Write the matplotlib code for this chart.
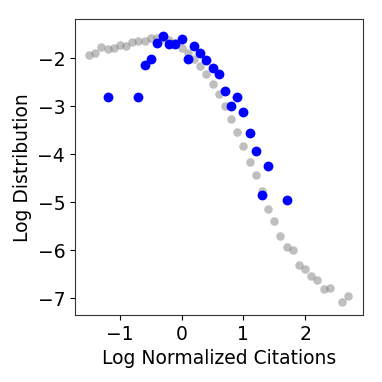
import matplotlib
matplotlib.use("Agg")
import matplotlib.pyplot as plt

gray_x = [-1.5, -1.4, -1.3, -1.2, -1.1, -1.0, -0.9, -0.8, -0.7, -0.6, -0.5,
          -0.4, -0.3, -0.2, -0.1, 0.0, 0.1, 0.2, 0.3, 0.4, 0.5, 0.6, 0.7, 0.8,
          0.9, 1.0, 1.1, 1.2, 1.3, 1.4, 1.5, 1.6, 1.7, 1.8, 1.9, 2.0, 2.1, 2.2,
          2.3, 2.4, 2.6, 2.7]
gray_y = [-1.93, -1.88, -1.76, -1.81, -1.79, -1.71, -1.74, -1.66, -1.64, -1.63, -1.58,
          -1.57, -1.58, -1.62, -1.68, -1.78, -1.88, -2.02, -2.16, -2.33, -2.54, -2.74, -2.99, -3.27,
          -3.54, -3.82, -4.16, -4.43, -4.76, -5.14, -5.38, -5.70, -5.93, -5.99, -6.31, -6.38, -6.54, -6.62,
          -6.81, -6.79, -7.07, -6.96]

blue_x = [-1.2, -0.7, -0.6, -0.5, -0.4, -0.3, -0.2, -0.1, 0.0, 0.1, 0.2, 0.3,
          0.4, 0.5, 0.6, 0.7, 0.8, 0.9, 1.0, 1.1, 1.2, 1.3, 1.4, 1.7]
blue_y = [-2.80, -2.80, -2.14, -2.02, -1.68, -1.54, -1.70, -1.69, -1.60, -2.02, -1.74, -1.88,
          -2.04, -2.20, -2.33, -2.67, -2.99, -2.80, -3.11, -3.56, -3.93, -4.85, -4.24, -4.95]

fig = plt.figure(figsize=(3.82, 3.82), dpi=100)
ax = fig.add_axes([0.196, 0.175, 0.753, 0.775])
ax.scatter(gray_x, gray_y, s=38, color='gray', alpha=0.5, linewidths=0)
ax.scatter(blue_x, blue_y, s=50, color='blue', linewidths=0)
ax.set_xlim(-1.73, 2.93)
ax.set_ylim(-7.35, -1.18)
ax.set_xticks([-1, 0, 1, 2])
ax.set_yticks([-2, -3, -4, -5, -6, -7])
ax.tick_params(labelsize=13.5)
ax.set_xlabel("Log Normalized Citations", fontsize=13.5)
ax.set_ylabel("Log Distribution", fontsize=13.5)
for s in ax.spines.values():
    s.set_color('#333333')
fig.savefig("out.png", dpi=100)
